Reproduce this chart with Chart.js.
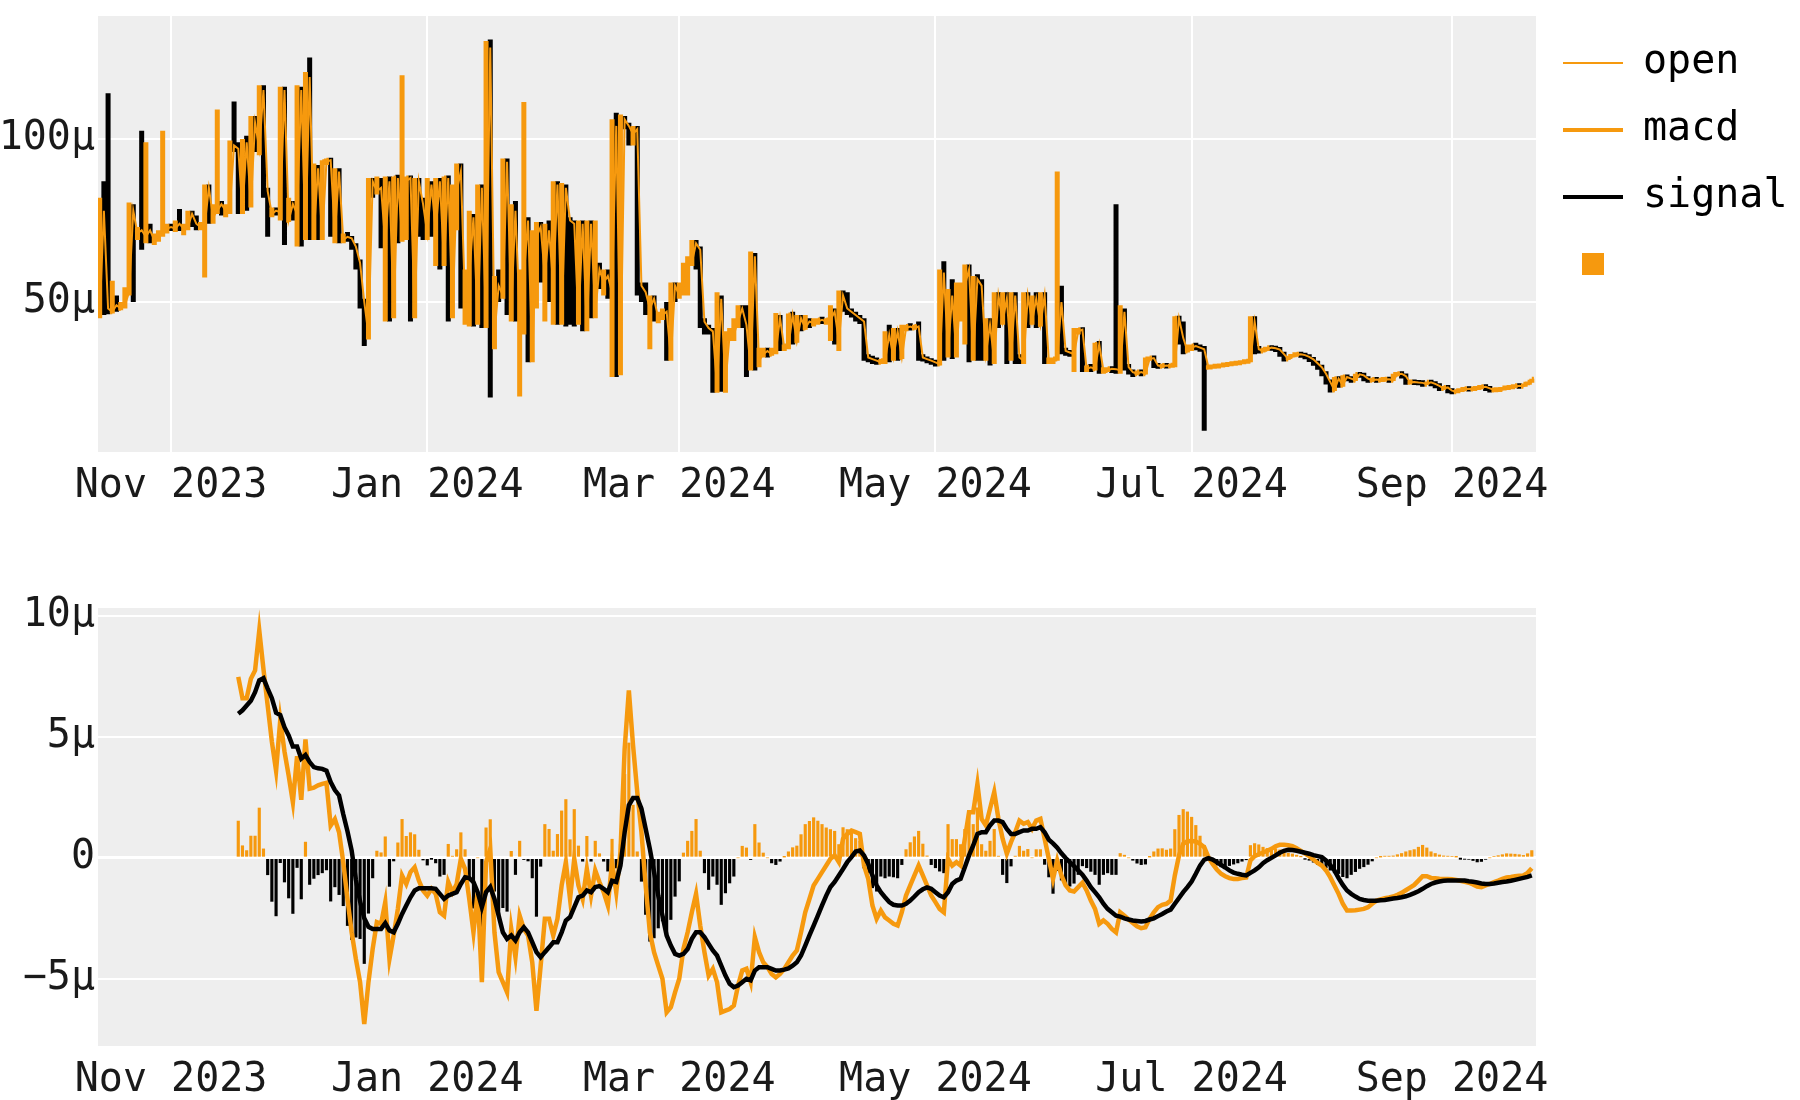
<!DOCTYPE html>
<html>
<head>
<meta charset="utf-8">
<script src="https://cdn.jsdelivr.net/npm/chart.js@4"></script>
<style>
  body { margin: 0; background: #fff; }
  #wrap { position: relative; width: 1800px; height: 1100px; }
  #priceCanvas { position: absolute; left: 0; top: 0; }
  #macdCanvas { position: absolute; left: 0; top: 520px; }
</style>
</head>
<body>
<div id="wrap">
  <canvas id="priceCanvas" width="1800" height="520"></canvas>
  <canvas id="macdCanvas" width="1800" height="580"></canvas>
</div>
<script>
// day 0 = 15 Oct 2023, one candle per day
const tickDays = [17, 78, 138, 199, 260, 322];
const tickLabels = ["Nov 2023", "Jan 2024", "Mar 2024", "May 2024", "Jul 2024", "Sep 2024"];
const priceTicks = [50, 100];
const macdTicks = [-5, 0, 5, 10];
const firstMacdDay = 33;

// prices in micro units
const priceOpen = [
  46, 78, 48, 47, 49, 48, 49, 53, 78, 71,
  72, 70, 72, 69, 70, 71, 72.5, 73, 72.5, 74,
  72.5, 73, 77, 74, 73, 73.5, 85, 76, 78, 80,
  78, 79, 98, 97, 78, 99, 80, 105, 97, 115,
  84, 77, 78, 77.5, 115, 75, 80, 77, 115, 70,
  119, 71, 91, 70, 93, 93.5, 71, 90, 69, 70,
  69.5, 67, 62, 50, 40, 87, 84, 85, 68, 87,
  46, 88, 70, 87, 88, 46, 87, 80, 71, 86,
  72, 87, 62, 88, 46, 84, 90, 50, 58, 76,
  44, 85, 44, 128, 40, 55, 52, 93, 48, 78,
  46, 58, 75, 33, 70, 73, 58, 72, 55, 86,
  45, 85, 75, 74, 44, 74, 42, 74, 47, 60,
  56, 58, 53, 104, 30, 106, 104, 101.5, 103, 55,
  53, 48, 51, 45, 46, 47, 33, 55, 52, 55,
  61, 62, 68, 66, 44, 42, 41, 24, 51, 25,
  40, 40, 44, 48, 43, 30, 64, 32, 34, 35,
  34, 35, 45, 36, 36.5, 46, 38, 45, 42, 44,
  43.5, 44, 44.5, 44, 44.5, 47, 38, 52, 48, 47,
  46, 45, 44, 33, 32.5, 32, 31.5, 32, 40, 33,
  41, 33, 42, 42.5, 42, 42.5, 33, 32.5, 32, 31.5,
  31, 59, 35, 52, 34, 54, 55, 60, 33, 57,
  55, 34, 43, 32, 52, 44, 51, 33, 52, 33,
  32, 52, 44, 51, 43, 52, 32, 32, 32.5, 50,
  35, 34.5, 34, 41, 41.5, 29.5, 30, 29.5, 37, 29,
  29, 29.5, 29.4, 29, 47, 30, 28.5, 28, 28.5, 28,
  32.5, 32.8, 30.5, 30.3, 30.5, 30.4, 30.6, 45, 39, 35,
  36, 36.5, 36, 35.5, 30, 30.1, 30.3, 30.4, 30.7, 30.8,
  31.1, 31.2, 31.4, 31.7, 31.8, 44, 35.5, 35, 35.5, 36,
  35.8, 35.4, 34, 32.5, 33.3, 33.8, 34, 33.7, 33.2, 32.4,
  31.2, 30, 28, 25.5, 23, 26.5, 24.5, 27, 26.5, 26,
  27.8, 27.5, 26.5, 26, 26.2, 26, 26.2, 26.3, 26, 27.8,
  28, 27.3, 25.4, 25.5, 25.3, 25.2, 24.8, 25.4, 24.9, 24.3,
  23.5, 23.8, 22.8, 22.5, 22.8, 23.2, 23.4, 23.3, 23.5, 23.8,
  24, 23.5, 23, 23.1, 23.2, 23.6, 23.8, 24, 24.3, 24.2,
  24.8, 25.4
];
const priceHigh = [
  82, 87, 114, 56.5, 52, 50, 54.5, 80.5, 80, 73,
  102.5, 99, 74, 71, 72, 102.5, 74, 74, 75, 78.5,
  74, 78, 78, 76.5, 74.5, 86, 86, 80, 109, 81,
  80, 99.5, 111.5, 99, 100, 101, 107, 107, 116.5, 116.5,
  85, 79, 79, 116, 116, 82, 81, 116.5, 116, 120.5,
  125, 92.5, 92, 93.5, 94, 94, 91, 91, 71, 71.5,
  70, 68, 63, 51, 88, 88, 88.5, 88, 88.5, 88.5,
  88.5, 89, 119.5, 88.5, 88.5, 88, 88, 82, 88, 87,
  88, 88, 88.5, 88.5, 86, 92.5, 92.5, 60, 78, 77,
  86, 86, 130, 130.5, 58, 60, 94, 94, 80, 81,
  60, 111.3, 76, 72, 74.5, 74.5, 74, 75, 87, 87,
  86.5, 86, 76, 75, 75, 75, 75, 75, 75, 62,
  60, 60, 106, 108, 107.5, 107, 105, 104, 104, 56,
  56, 52, 52, 47, 48, 50, 56, 56, 56, 62,
  64, 69, 69, 67, 45, 43, 42, 53, 52, 41,
  42, 45, 49, 49, 49, 65.5, 65, 36, 36, 36,
  36, 46.6, 46, 37, 46.5, 47, 46, 46, 46, 45,
  45, 45, 45.5, 45, 49, 48, 53.5, 53.5, 53, 48,
  47, 46, 45, 34, 33.5, 33, 32.5, 41, 43, 42,
  42, 43, 43, 43.5, 43, 44, 34, 33, 32.5, 32,
  60, 62.5, 54, 57, 56, 56, 61.5, 61.5, 58, 58.5,
  57, 45, 45, 53, 53, 53, 53, 53, 53, 34,
  53, 53, 52, 53, 53, 53, 33, 33, 90, 55,
  36, 35, 42, 42, 42, 30.5, 31, 37.5, 38, 30,
  30, 30, 80, 49, 48, 31, 29, 29, 29, 33,
  33, 33, 31, 31, 31, 31, 45.6, 45.6, 44, 37,
  37, 37.5, 37, 36.5, 30.5, 30.6, 30.8, 31, 31.1, 31.4,
  31.5, 31.8, 32, 32.2, 45.6, 45.6, 36.5, 36, 36.2, 36.5,
  36.3, 35.8, 34.5, 33.5, 34, 34.3, 34.2, 34, 33.5, 32.6,
  31.5, 30.3, 28.5, 26, 27, 27, 27.5, 27.5, 27, 28,
  28.2, 27.8, 26.8, 26.5, 26.6, 26.4, 26.6, 26.7, 28, 28.3,
  28.3, 27.5, 25.8, 25.9, 25.7, 25.5, 25.6, 25.7, 25.2, 24.6,
  24, 24.2, 23.2, 23, 23.4, 23.6, 23.8, 23.7, 24, 24.2,
  24.3, 23.8, 23.4, 23.5, 23.8, 24, 24.2, 24.5, 24.8, 25,
  25.6, 26.5
];
const priceLow = [
  45, 46, 46.5, 46.5, 47, 47.5, 48, 52, 50, 69,
  66, 68, 68, 67.5, 68.5, 70, 71, 72, 71.5, 72,
  70.5, 72, 73, 72, 72, 57.5, 74, 74, 77, 76.5,
  76, 77, 96, 77, 77, 78, 79, 96, 95, 82,
  70, 76, 76.5, 75, 67.5, 74.5, 75, 67, 67, 69,
  69, 69, 69, 69, 92, 70, 68, 68, 68, 68.5,
  66, 60, 48, 36.5, 38.5, 82, 83, 66.5, 44, 44,
  45, 68, 68.5, 69, 44, 45, 70, 69, 69, 70,
  61, 60, 61, 44, 45, 72, 48, 43, 42.5, 42.5,
  43, 42, 42, 20.7, 35.5, 50, 51, 46, 44, 44,
  21, 40, 31.5, 31.5, 48, 56, 44, 50, 43, 43,
  43, 42.5, 43, 42.5, 43, 41, 41, 45, 45, 54,
  52, 51, 27, 27, 27.5, 103, 98, 98, 52, 50,
  46, 35.5, 44, 43.5, 44.5, 32, 32, 50, 51, 52,
  52, 61, 60, 42, 40, 40, 22.2, 22.2, 22.5, 22.2,
  38, 38, 42, 42, 27, 29, 29, 30, 33, 33,
  33.5, 34, 35, 35, 35.5, 37, 37.5, 41, 41.5, 42,
  42.5, 43, 43.5, 43, 38, 37, 35, 47, 46, 45.5,
  44, 43.5, 32, 31.5, 31, 31, 31, 31, 31.5, 32,
  32, 32.5, 41, 41.5, 41.5, 32, 32, 31.5, 31, 30.5,
  30.5, 32, 33, 32.5, 33, 44, 37, 31.5, 32, 32,
  32, 32, 30.5, 31, 42, 43, 31, 32, 31, 31,
  31, 42, 43, 42, 42.5, 31, 31, 31, 32, 34,
  33.5, 33.5, 28.5, 40, 28.5, 28.5, 28.5, 29, 28, 28,
  28.5, 28.5, 28, 28, 29, 28, 27, 27.5, 27.8, 27.8,
  32, 30, 30, 29.8, 30, 29.8, 30, 37, 34, 34.5,
  35, 35.5, 35, 10.5, 29.5, 29.6, 29.9, 30, 30.2, 30.5,
  30.6, 30.9, 31, 31.2, 31.5, 34, 34.5, 34.5, 35, 35.2,
  35, 33.5, 32, 32.2, 33, 33.4, 33.5, 33, 32, 30.8,
  29.5, 27.5, 25, 22.7, 22.7, 24, 24, 26, 25.5, 25.8,
  27, 26.2, 25.8, 25.6, 25.8, 25.7, 25.9, 25.8, 25.8, 27.2,
  27, 25, 25, 25, 24.8, 24.5, 24.6, 24.7, 24, 23.2,
  23.2, 22.5, 22.2, 22.2, 22.5, 22.8, 23, 22.9, 23.2, 23.4,
  23.2, 22.8, 22.6, 22.7, 22.9, 23.2, 23.5, 23.6, 23.9, 24,
  24.5, 25.2
];
const priceClose = [
  78, 48, 47, 49, 48, 49, 53, 78, 71, 72,
  70, 72, 69, 70, 71, 72.5, 73, 72.5, 74, 72.5,
  73, 77, 74, 73, 73.5, 85, 76, 78, 80, 78,
  79, 98, 97, 78, 99, 80, 105, 97, 115, 84,
  77, 78, 77.5, 115, 75, 80, 77, 115, 70, 119,
  71, 91, 70, 93, 93.5, 71, 90, 69, 70, 69.5,
  67, 62, 50, 40, 87, 84, 85, 68, 87, 46,
  88, 70, 87, 88, 46, 87, 80, 71, 86, 72,
  87, 62, 88, 46, 84, 90, 50, 58, 76, 44,
  85, 44, 128, 40, 55, 52, 93, 48, 78, 46,
  58, 75, 33, 70, 73, 58, 72, 55, 86, 45,
  85, 75, 74, 44, 74, 42, 74, 47, 60, 56,
  58, 53, 104, 30, 106, 104, 101.5, 103, 55, 53,
  48, 51, 45, 46, 47, 33, 55, 52, 55, 61,
  62, 68, 66, 44, 42, 41, 24, 51, 25, 40,
  40, 44, 48, 43, 30, 64, 32, 34, 35, 34,
  35, 45, 36, 36.5, 46, 38, 45, 42, 44, 43.5,
  44, 44.5, 44, 44.5, 47, 38, 52, 48, 47, 46,
  45, 44, 33, 32.5, 32, 31.5, 32, 40, 33, 41,
  33, 42, 42.5, 42, 42.5, 33, 32.5, 32, 31.5, 31,
  59, 35, 52, 34, 54, 55, 60, 33, 57, 55,
  34, 43, 32, 52, 44, 51, 33, 52, 33, 32,
  52, 44, 51, 43, 52, 32, 32, 32.5, 50, 35,
  34.5, 34, 41, 41.5, 29.5, 30, 29.5, 37, 29, 29,
  29.5, 29, 29, 47, 30, 28.5, 28, 28.5, 28, 32.5,
  32.8, 30.5, 30.3, 30.5, 30.4, 30.6, 45, 39, 35, 36,
  36.5, 36, 35.5, 30, 30.1, 30.3, 30.4, 30.7, 30.8, 31.1,
  31.2, 31.4, 31.7, 31.8, 44, 35.5, 35, 35.5, 36, 35.8,
  35.4, 34, 32.5, 33.3, 33.8, 34, 33.7, 33.2, 32.4, 31.2,
  30, 28, 25.5, 23, 26.5, 24.5, 27, 26.5, 26, 27.8,
  27.5, 26.5, 26, 26.2, 26, 26.2, 26.3, 26, 27.8, 28,
  27.3, 25.4, 25.5, 25.3, 25.2, 24.8, 25.4, 24.9, 24.3, 23.5,
  23.8, 22.8, 22.5, 22.8, 23.2, 23.4, 23.3, 23.5, 23.8, 24,
  23.5, 23, 23.1, 23.2, 23.6, 23.8, 24, 24.3, 24.2, 24.8,
  25.4, 26.3
];

// macd and signal from day 33 onwards, micro units
const macdVals = [
  7.48, 6.6, 6.6, 7.4, 7.75, 9.4, 7.8, 6.3, 4.8, 3.6,
  5.7, 4.4, 3.4, 2.3, 4.2, 2.4, 4.9, 2.86, 2.9, 3.0,
  3.06, 3.1, 1.34, 1.6, 1.06, -0.18, -1.7, -3.08, -4.18, -5.14,
  -6.87, -5.14, -3.77, -2.66, -2.73, -1.83, -4.18, -3.21, -2.11, -0.73,
  -1.08, -0.59, -0.39, -0.94, -1.35, -1.56, -1.28, -1.49, -2.25, -2.39,
  -1.0, -1.42, -1.08, -0.04, -0.46, -1.7, -3.08, -1.42, -5.14, -0.18,
  0.37, -3.08, -4.73, -5.14, -5.56, -2.94, -4.11, -2.39, -2.94, -3.21,
  -4.32, -6.32, -4.46, -2.52, -2.52, -3.21, -2.52, -1.14, -0.18, -1.7,
  -0.04, -1.14, -1.7, -0.46, -1.56, -0.52, -1.0, -1.42, -1.97, -0.18,
  -1.42, 0.23, 4.51, 6.92, 4.65, 2.72, 1.06, -1.14, -3.08, -3.9,
  -4.46, -5.0, -6.39, -6.18, -5.56, -5.0, -3.77, -3.08, -2.25, -1.49,
  -2.8, -3.9, -4.87, -4.59, -5.14, -6.39, -6.32, -6.25, -6.11, -5.28,
  -4.66, -4.59, -5.14, -3.28, -3.9, -4.32, -4.52, -4.8, -4.94, -4.8,
  -4.59, -4.32, -4.04, -3.83, -3.08, -2.25, -1.7, -1.14, -0.87, -0.59,
  -0.32, -0.04, 0.1, -0.18, 0.79, 0.99, 1.13, 1.06, 0.99, -0.32,
  -0.87, -1.97, -2.52, -2.18, -2.46, -2.59, -2.73, -2.8, -2.25, -1.56,
  -1.14, -0.73, -0.32, -0.73, -1.14, -1.56, -1.83, -2.11, -2.25, -0.04,
  -0.32, -0.18, -0.32, 0.79, 1.89, 1.89, 3.06, 1.61, 1.34, 2.03,
  2.72, 1.61, 0.79, 0.17, 0.65, 1.06, 1.54, 1.41, 1.48, 1.2,
  1.54, 1.61, 0.79, -0.04, -0.87, -0.11, -0.73, -1.14, -1.35, -1.39,
  -1.21, -1.03, -1.35, -1.77, -2.11, -2.73, -2.59, -2.73, -2.94, -3.08,
  -2.25, -2.39, -2.55, -2.69, -2.83, -2.91, -2.87, -2.52, -2.25, -2.04,
  -1.94, -1.9, -1.77, -0.73, 0.1, 0.58, 0.69, 0.7, 0.68, 0.58,
  0.44, 0.03, -0.25, -0.48, -0.66, -0.76, -0.84, -0.87, -0.87, -0.84,
  -0.81, -0.11, 0.07, 0.15, 0.22, 0.29, 0.37, 0.48, 0.54, 0.54,
  0.52, 0.48, 0.4, 0.29, 0.18, 0.07, -0.07, -0.21, -0.32, -0.52,
  -0.8, -1.14, -1.49, -1.9, -2.18, -2.18, -2.17, -2.14, -2.11, -2.04,
  -1.9, -1.77, -1.72, -1.67, -1.64, -1.6, -1.53, -1.45, -1.34, -1.23,
  -1.12, -0.94, -0.76, -0.76, -0.83, -0.84, -0.86, -0.87, -0.87, -0.88,
  -0.91, -0.95, -0.99, -1.03, -1.1, -1.19, -1.21, -1.14, -1.08, -1.0,
  -0.94, -0.87, -0.81, -0.79, -0.76, -0.74, -0.73, -0.62, -0.43
];
const signalVals = [
  5.96, 6.1, 6.3, 6.5, 6.85, 7.34, 7.43, 7.0, 6.6, 6.0,
  5.9, 5.4, 5.06, 4.6, 4.6, 4.1, 4.25, 3.96, 3.75, 3.7,
  3.68, 3.6, 3.13, 2.8, 2.58, 1.8, 1.1, 0.3, -0.9, -1.8,
  -2.5, -2.85, -2.94, -2.94, -2.94, -2.7, -3.0, -3.08, -2.73, -2.32,
  -1.97, -1.63, -1.35, -1.26, -1.26, -1.26, -1.26, -1.28, -1.49, -1.7,
  -1.56, -1.49, -1.42, -1.08, -0.8, -0.84, -1.0, -1.42, -2.04, -1.42,
  -1.21, -1.7, -2.39, -3.08, -3.35, -3.21, -3.42, -3.08, -2.87, -3.08,
  -3.49, -3.9, -4.11, -3.9, -3.7, -3.49, -3.49, -3.08, -2.59, -2.45,
  -2.04, -1.63, -1.56, -1.35, -1.42, -1.21, -1.17, -1.28, -1.42, -0.95,
  -1.0, -0.32, 1.06, 2.17, 2.47, 2.47, 2.03, 1.2, 0.37, -0.59,
  -1.56, -2.39, -3.21, -3.63, -3.97, -4.04, -3.97, -3.77, -3.35, -3.08,
  -3.08, -3.28, -3.56, -3.83, -4.04, -4.46, -4.87, -5.21, -5.35, -5.28,
  -5.14, -5.0, -5.07, -4.66, -4.52, -4.52, -4.52, -4.59, -4.66, -4.66,
  -4.62, -4.57, -4.46, -4.32, -4.04, -3.63, -3.21, -2.8, -2.39, -1.97,
  -1.56, -1.21, -1.0, -0.73, -0.46, -0.18, 0.03, 0.26, 0.3, 0.1,
  -0.25, -0.73, -1.14, -1.42, -1.63, -1.83, -1.94, -1.97, -1.97, -1.9,
  -1.77, -1.6, -1.42, -1.3, -1.22, -1.28, -1.42, -1.56, -1.63, -1.42,
  -1.08, -0.94, -0.87, -0.39, 0.1, 0.51, 0.99, 1.06, 1.06, 1.34,
  1.54, 1.54, 1.48, 1.2, 0.99, 0.99, 1.06, 1.13, 1.13, 1.2,
  1.2, 1.27, 1.06, 0.75, 0.6, 0.42, 0.19, -0.01, -0.18, -0.34,
  -0.52, -0.7, -0.94, -1.21, -1.42, -1.63, -1.9, -2.11, -2.25, -2.39,
  -2.43, -2.5, -2.55, -2.59, -2.61, -2.63, -2.61, -2.55, -2.5, -2.41,
  -2.32, -2.22, -2.14, -1.9, -1.66, -1.42, -1.21, -0.98, -0.66, -0.32,
  -0.08, -0.01, -0.07, -0.18, -0.29, -0.4, -0.52, -0.61, -0.66, -0.7,
  -0.73, -0.62, -0.52, -0.39, -0.22, -0.1, 0.0, 0.1, 0.21, 0.29,
  0.33, 0.32, 0.29, 0.25, 0.21, 0.17, 0.11, 0.07, 0.03, -0.11,
  -0.29, -0.52, -0.84, -1.12, -1.35, -1.49, -1.6, -1.7, -1.74, -1.77,
  -1.77, -1.77, -1.75, -1.74, -1.71, -1.68, -1.66, -1.63, -1.59, -1.53,
  -1.46, -1.38, -1.28, -1.17, -1.08, -1.02, -0.98, -0.95, -0.94, -0.94,
  -0.94, -0.94, -0.94, -0.97, -0.99, -1.02, -1.06, -1.08, -1.08, -1.06,
  -1.03, -1.0, -0.98, -0.95, -0.91, -0.87, -0.83, -0.79, -0.73
];

const ORANGE = "rgb(246,153,14)";
const GRID = "#ffffff";

Chart.defaults.font.family = "'DejaVu Sans Mono', monospace";
Chart.defaults.font.size = 40;
Chart.defaults.color = "#1a1a1a";
Chart.defaults.animation = false;
Chart.defaults.elements.point.radius = 0;

// grey plot area like the original
const plotBackground = {
  id: "plotBackground",
  beforeDraw(chart) {
    const {ctx, chartArea: a} = chart;
    ctx.save();
    ctx.fillStyle = "#eeeeee";
    ctx.fillRect(a.left, a.top, a.width, a.height);
    ctx.restore();
  }
};

// keep the legend column the same width so both panels line up
const fixedLegendWidth = {
  id: "fixedLegendWidth",
  beforeLayout(chart) {
    const legend = chart.legend;
    if (!legend || legend._fixedWidth) return;
    const fit = legend.fit;
    legend.fit = function () {
      fit.call(this);
      this.width = 264;
    };
    legend._fixedWidth = true;
  }
};

function timeAxis(showGrid, height) {
  return {
    type: "linear",
    min: -0.4,
    max: 342,
    offset: false,
    afterBuildTicks: s => { s.ticks = tickDays.map(v => ({value: v})); },
    afterFit: s => { s.height = height; },
    ticks: {
      autoSkip: false,
      maxRotation: 0,
      padding: 11,
      callback: v => tickLabels[tickDays.indexOf(v)]
    },
    grid: {display: showGrid, color: GRID, lineWidth: 2, drawTicks: false},
    border: {display: false}
  };
}

function valueAxis(min, max, ticks, label, zeroWidth) {
  return {
    min: min,
    max: max,
    afterBuildTicks: s => { s.ticks = ticks.map(v => ({value: v})); },
    afterFit: s => {
      s.width = 98;
      s.paddingTop = 0;
      s.paddingBottom = 0;
    },
    ticks: {padding: 3, callback: label},
    grid: {
      color: GRID,
      lineWidth: c => (c.tick && c.tick.value === 0 ? zeroWidth : 2),
      drawTicks: false
    },
    border: {display: false}
  };
}

// OHLC bars: left tick = open, vertical high-low, right tick = close
const upBars = [];
const downBars = [];
priceOpen.forEach((o, i) => {
  const c = priceClose[i];
  const pts = [
    {x: i - 0.5, y: o}, {x: i, y: o},
    {x: i, y: priceHigh[i]}, {x: i, y: priceLow[i]},
    {x: i, y: c}, {x: i + 0.5, y: c},
    {x: i + 0.5, y: null}
  ];
  (c >= o ? upBars : downBars).push(...pts);
});
const openLine = priceOpen.map((v, i) => ({x: i, y: v}));

const square = document.createElement("canvas");
square.width = 22;
square.height = 22;
const sq = square.getContext("2d");
sq.fillStyle = ORANGE;
sq.fillRect(0, 0, 22, 22);

const legendItems = [
  {text: "open", pointStyle: "line", strokeStyle: ORANGE, fillStyle: ORANGE, lineWidth: 2, hidden: false, datasetIndex: 0},
  {text: "macd", pointStyle: "line", strokeStyle: ORANGE, fillStyle: ORANGE, lineWidth: 4, hidden: false, datasetIndex: 1},
  {text: "signal", pointStyle: "line", strokeStyle: "#000", fillStyle: "#000", lineWidth: 4, hidden: false, datasetIndex: 2},
  {text: "", pointStyle: square, strokeStyle: ORANGE, fillStyle: ORANGE, lineWidth: 0, hidden: false, datasetIndex: 0}
];

const priceChart = new Chart(document.getElementById("priceCanvas"), {
  type: "line",
  data: {
    datasets: [
      {label: "open", data: openLine, borderColor: ORANGE, borderWidth: 2},
      {label: "increasing", data: upBars, borderColor: ORANGE, borderWidth: 5, spanGaps: false},
      {label: "decreasing", data: downBars, borderColor: "#000", borderWidth: 5, spanGaps: false}
    ]
  },
  options: {
    responsive: false,
    layout: {padding: {top: 16}},
    scales: {
      x: timeAxis(true, 68),
      y: valueAxis(4, 137.7, priceTicks, v => v + "μ", 2)
    },
    plugins: {
      legend: {
        position: "right",
        align: "start",
        onClick: null,
        labels: {
          usePointStyle: true,
          pointStyleWidth: 60,
          padding: 27,
          generateLabels: () => legendItems
        }
      },
      tooltip: {enabled: false}
    }
  },
  plugins: [plotBackground, fixedLegendWidth]
});

const macdLine = macdVals.map((v, i) => ({x: firstMacdDay + i, y: v}));
const signalLine = signalVals.map((v, i) => ({x: firstMacdDay + i, y: v}));
const histBars = macdVals.map((v, i) => ({x: firstMacdDay + i, y: v - signalVals[i]}));

const macdChart = new Chart(document.getElementById("macdCanvas"), {
  type: "line",
  data: {
    datasets: [
      {label: "signal", data: signalLine, borderColor: "#000", borderWidth: 4.5},
      {label: "macd", data: macdLine, borderColor: ORANGE, borderWidth: 4.5},
      {
        type: "bar",
        label: "",
        data: histBars,
        barThickness: 2.5,
        borderWidth: 0,
        backgroundColor: c => (c.raw && c.raw.y < 0 ? "#000" : ORANGE)
      }
    ]
  },
  options: {
    responsive: false,
    layout: {padding: {top: 88, right: 264}},
    scales: {
      x: timeAxis(false, 54),
      y: valueAxis(-7.78, 10.33, macdTicks,
        v => (v === 0 ? "0" : (v < 0 ? "\u2212" + (-v) : v) + "μ"), 3)
    },
    plugins: {
      legend: {display: false},
      tooltip: {enabled: false}
    }
  },
  plugins: [plotBackground]
});
</script>
</body>
</html>
